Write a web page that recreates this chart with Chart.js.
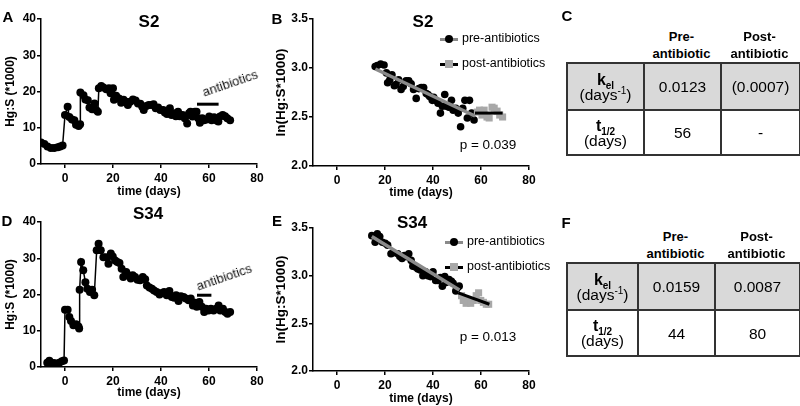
<!DOCTYPE html>
<html>
<head>
<meta charset="utf-8">
<script src="https://cdn.jsdelivr.net/npm/chart.js@4.4.1/dist/chart.umd.min.js"></script>
<style>
  body { margin: 0; background: #fff; font-family: 'Liberation Sans', Arial, Helvetica, sans-serif; }
  #fig { position: relative; width: 800px; height: 406px; overflow: hidden; }
  canvas { position: absolute; }
  .t { position: absolute; white-space: nowrap; color: #000; line-height: 1; transform: translate(-50%, -50%); }
  .letter { font-weight: bold; font-size: 15px; }
  .title { font-weight: bold; font-size: 17px; }
  .abx { font-size: 13px; color: #111; }
  .pval { font-size: 13.5px; }
  .leg { position: absolute; font-size: 12.5px; line-height: 1; white-space: nowrap; }
  .leg .sym { position: absolute; width: 18px; height: 3px; top: -1.5px; }
  .leg .mk { position: absolute; width: 8px; height: 8px; top: -4px; left: 5px; }
  .leg .txt { position: absolute; left: 22px; top: -7px; }
  .hdr { position: absolute; text-align: center; font-weight: bold; font-size: 13px; line-height: 17px; }
  table.tb { position: absolute; border-collapse: collapse; table-layout: fixed; }
  table.tb td { border: 2px solid #333; text-align: center; vertical-align: middle; padding: 0; font-size: 15.5px; line-height: 15px; }
  table.tb tr.g td { background: #d9d9d9; }
  table.tb b { font-size: 16px; }
  sub, sup { font-size: 10px; line-height: 0; }
</style>
</head>
<body>
<div id="fig">
  <canvas id="cA" width="270" height="200" style="left:0;top:0"></canvas>
  <canvas id="cB" width="270" height="200" style="left:270px;top:0"></canvas>
  <canvas id="cD" width="270" height="204" style="left:0;top:200px"></canvas>
  <canvas id="cE" width="270" height="206" style="left:270px;top:200px"></canvas>

  <div class="t letter" style="left:8px;top:16px">A</div>
  <div class="t letter" style="left:277px;top:18px">B</div>
  <div class="t letter" style="left:567px;top:15px">C</div>
  <div class="t letter" style="left:7px;top:220px">D</div>
  <div class="t letter" style="left:277px;top:220px">E</div>
  <div class="t letter" style="left:566px;top:222px">F</div>

  <div class="t title" style="left:149px;top:21px">S2</div>
  <div class="t title" style="left:423px;top:21px">S2</div>
  <div class="t title" style="left:148px;top:213px">S34</div>
  <div class="t title" style="left:412px;top:222px">S34</div>

  <div class="t abx" style="left:230px;top:83px;transform:translate(-50%,-50%) rotate(-19deg)">antibiotics</div>
  <div class="t abx" style="left:224px;top:277px;transform:translate(-50%,-50%) rotate(-19deg)">antibiotics</div>

  <div class="t pval" style="left:488px;top:145px">p = 0.039</div>
  <div class="t pval" style="left:488px;top:337px">p = 0.013</div>

  <div class="leg" style="left:440px;top:39px"><span class="sym" style="background:#8a8a8a"></span><span class="mk" style="background:#000;border-radius:50%"></span><span class="txt">pre-antibiotics</span></div>
  <div class="leg" style="left:440px;top:64px"><span class="sym" style="background:#000"></span><span class="mk" style="background:#a8a8a8"></span><span class="txt">post-antibiotics</span></div>
  <div class="leg" style="left:445px;top:242px"><span class="sym" style="background:#8a8a8a"></span><span class="mk" style="background:#000;border-radius:50%"></span><span class="txt">pre-antibiotics</span></div>
  <div class="leg" style="left:445px;top:267px"><span class="sym" style="background:#000"></span><span class="mk" style="background:#a8a8a8"></span><span class="txt">post-antibiotics</span></div>

  <div id="tabC"></div>
  <div id="tabF"></div>
</div>

<script>
// x axis ticks shared by all four plots
const xTicks = [0, 20, 40, 60, 80];

// A: S2 Hg:S ratio (*1000) over time
const s2Day = [-10, -8.6, -7.3, -5.9, -4.5, -3, -2, -1, 0, 1.1, 1.8, 2.9, 3.9, 4.6, 5.7, 6.3,
  6.4, 7.7, 8.5, 9.5, 10.2, 11.3, 12.3, 13, 13.7, 14.1, 15.1, 16, 17.2, 18.3, 19, 20, 20.4, 21.3, 22.5,
  23.4, 24.4, 25.5, 26.2, 27.2, 28.3, 29.4, 30.4, 31.4, 32.2, 32.8, 33.9, 34.9, 36, 36.9, 37.8, 38.8, 39.7, 40.9, 41.6,
  42.5, 43.7, 44.4, 45.3, 46.2, 47.1, 47.8, 49, 49.9, 50.9, 51.7, 52.3, 53.1, 54.1, 54.8, 55.5, 56.2, 57.2, 57.9, 59,
  60.1, 61.1, 62.1, 63.2, 63.9, 64.6, 65.7, 66.7, 67.6, 68.8];
const s2Ratio = [5.9, 5.5, 4.8, 4.4, 4.4, 4.6, 4.8, 5.1, 13.5, 15.8, 13, 12.3, 12.1, 10.8, 10.5, 11,
  19.7, 19, 17.8, 17.6, 15.6, 15.1, 16.7, 14.9, 14.4, 20.9, 21.5, 21.1, 20.6, 20.9, 19.5, 20.9, 17.7, 18.8, 18.1,
  16.9, 17.7, 17.2, 16.3, 17.2, 17.8, 17.5, 16.7, 16.6, 15.8, 14.9, 16, 16.3, 16.3, 16.5, 15.4, 15.6, 14.9, 14.9, 14.2,
  13.8, 15.4, 13.5, 14, 13.2, 14.4, 13.2, 13.5, 12.6, 11.2, 14, 14.4, 13.1, 14.4, 14.4, 12.6, 11.4, 12.6, 12.1, 12.3,
  13.1, 12.1, 12.9, 12, 11.7, 13.1, 13.5, 13.2, 12.6, 12.1];
const s2AbxDay = [55, 64];
const s2AbxLevel = [16.5, 16.5];

// B: S2 ln(Hg:S*1000)
const s2PreDay = [15.9, 16.8, 18.2, 19.6, 20.6, 21.1, 22, 22.9, 23.9, 24.6, 25.7, 26.7, 27.6, 28.8, 29.9, 30.9,
  31.9, 33, 34.1, 35.1, 36.1, 37.2, 37.9, 38.6, 39.7, 40.3, 41.1, 42.1, 43.1, 43.9, 44.9, 45.6, 46.6, 47.7, 48.4,
  49.5, 50.5, 51.5, 52.4, 53.3, 54.3, 55.2, 56.1, 57.1];
const s2PreLn = [3.015, 3.025, 3.04, 3.03, 2.95, 2.85, 2.88, 2.93, 2.82, 2.83, 2.88, 2.78, 2.81, 2.87, 2.87, 2.84,
  2.78, 2.69, 2.79, 2.8, 2.8, 2.74, 2.73, 2.71, 2.67, 2.7, 2.67, 2.64, 2.54, 2.61, 2.73, 2.61, 2.6, 2.67, 2.57,
  2.59, 2.54, 2.4, 2.59, 2.67, 2.49, 2.67, 2.54, 2.47];
const s2PostDay = [58.5, 59.4, 60.4, 61.3, 62.5, 63.4, 64.6, 65.5, 66.7, 67.8, 69];
const s2PostLn = [2.55, 2.57, 2.52, 2.57, 2.5, 2.49, 2.6, 2.59, 2.56, 2.52, 2.5];
const s2PreFitDay = [16, 57.5];
const s2PreFitLn = [2.99, 2.51];
const s2PostFitDay = [57.5, 69];
const s2PostFitLn = [2.54, 2.54];

// D: S34 Hg:S ratio (*1000)
const s34Day = [-7.4, -6.5, -5.6, -4.6, -3.5, -2.4, -1.3, -0.4, 0, 1.1, 1.8, 2.5, 3.5, 4.6, 5.6, 5.9,
  6.1, 6.7, 7.6, 8.5, 9.3, 10.4, 11.3, 12.2, 13.2, 14, 14.9, 16, 17.1, 18.1, 19.1, 19.9, 20.9, 21.8,
  22.7, 23.6, 24.3, 25.5, 26.4, 27.4, 28.2, 29.2, 30.2, 31.3, 32.4, 33.4, 34.1, 35.2, 36.2, 37.1, 38.2, 39.4, 40.3, 41.3,
  42.4, 43.5, 44.5, 45.5, 46.3, 47.3, 48.3, 49.4, 50.3, 51.5, 52.4, 53.3, 54.2, 54.9, 56, 57, 58, 58.8, 59.8, 60.8,
  61.9, 63, 64, 64.7, 65.8, 66.8, 67.7, 68.8];
const s34Ratio = [1.2, 1.7, 0.5, 1.1, 0.9, 1.2, 1.6, 1.8, 15.8, 15.8, 13.8, 12.7, 11.5, 11.8, 11.2, 10.6,
  21.3, 29, 26.7, 23.4, 21.6, 20.7, 21.3, 19.8, 32.2, 34, 32.2, 30.3, 30.3, 28.5, 31.3, 30.5, 29.4, 29,
  28.7, 27.1, 24.8, 26.2, 25.3, 24.4, 25.3, 24.8, 24.1, 23.9, 24.8, 24.2, 22.5, 21.9, 21.6, 21.1, 20.7, 20, 20.4, 20.7,
  19.8, 21, 19.3, 19.1, 19.8, 18.2, 19.5, 19.3, 18.9, 18.4, 18.9, 17, 17.7, 16.6, 17.9, 16.6, 15.2, 16.1, 15.6, 16.1,
  15.6, 16.1, 17, 15.6, 16.1, 15.2, 14.7, 15.2];
const s34AbxDay = [55, 61];
const s34AbxLevel = [19.8, 19.8];

// E: S34 ln(Hg:S*1000)
const s34PreDay = [14.5, 15.9, 16.8, 17.8, 18.9, 20.1, 21.1, 22.5, 23.4, 25.3, 26.2, 27.1, 28.1, 29.1, 29.9, 30.9,
  31.6, 32.7, 33.7, 34.7, 35.8, 36.9, 37.9, 38.9, 40, 41.1, 42.1, 43.1, 43.9, 44.9, 45.6, 46.7, 47.7, 48.4, 49.5, 50.1, 50.9];
const s34PreLn = [3.42, 3.35, 3.44, 3.41, 3.35, 3.34, 3.32, 3.23, 3.24, 3.23, 3.2, 3.18, 3.21, 3.2, 3.23, 3.16,
  3.1, 3.09, 3.07, 3.06, 3.0, 3.04, 3.0, 2.99, 3.04, 2.95, 2.95, 2.98, 2.89, 2.99, 2.93, 2.96, 2.94, 2.92, 2.84, 2.87, 2.89];
const s34PostDay = [51.9, 52.6, 53.8, 54.7, 55.7, 56.8, 58, 59, 59.9, 61, 62.2, 63.2];
const s34PostLn = [2.79, 2.74, 2.71, 2.74, 2.71, 2.74, 2.79, 2.82, 2.74, 2.72, 2.7, 2.7];
const s34PreFitDay = [14.5, 51];
const s34PreFitLn = [3.41, 2.85];
const s34PostFitDay = [50.5, 63.5];
const s34PostFitLn = [2.82, 2.70];

// C / F tables
const colHeads = ['Pre-<br>antibiotic', 'Post-<br>antibiotic'];
const s2Kel = ['0.0123', '(0.0007)'];
const s2Half = ['56', '-'];
const s34Kel = ['0.0159', '0.0087'];
const s34Half = ['44', '80'];

const pts = (xs, ys) => xs.map((x, i) => ({ x: x, y: ys[i] }));

Chart.defaults.font.family = "'Liberation Sans', Arial, Helvetica, sans-serif";
Chart.defaults.color = '#000';

function opts(o) {
  return {
    responsive: false,
    animation: false,
    layout: { padding: o.pad },
    plugins: { legend: { display: false }, tooltip: { enabled: false } },
    scales: {
      x: {
        type: 'linear', min: -10, max: 80,
        afterBuildTicks: s => { s.ticks = xTicks.map(v => ({ value: v })); },
        afterFit: s => { s.height = o.xh; },
        ticks: { font: { size: 12, weight: 'bold' }, padding: 3, maxRotation: 0, color: '#000' },
        grid: { display: true, drawOnChartArea: false, drawTicks: true, tickLength: 4, color: '#000', lineWidth: 1.5 },
        border: { display: true, color: '#000', width: 1.5 },
        title: { display: true, text: 'time (days)', color: '#000', font: { size: 12, weight: 'bold' }, padding: { top: 0, bottom: o.xtb } }
      },
      y: {
        min: o.min, max: o.max,
        afterFit: s => { s.width = o.yw; },
        ticks: { stepSize: o.step, font: { size: 12, weight: 'bold' }, padding: 1, color: '#000',
                 callback: v => o.fmt ? v.toFixed(1) : v },
        grid: { display: true, drawOnChartArea: false, drawTicks: true, tickLength: 4, color: '#000', lineWidth: 1.5 },
        border: { display: true, color: '#000', width: 1.5 },
        title: { display: true, text: o.ytitle, color: '#000', font: { size: o.yts, weight: 'bold' }, padding: { top: 3, bottom: 0 } }
      }
    }
  };
}

function timeCourse(id, days, vals, abxDays, abxVals, o) {
  new Chart(document.getElementById(id), {
    type: 'scatter',
    data: { datasets: [
      { data: pts(abxDays, abxVals), showLine: true, borderColor: '#000', borderWidth: 3, pointRadius: 0 },
      { data: pts(days, vals), showLine: true, borderColor: '#000', borderWidth: 1.5, pointRadius: 4,
        pointBackgroundColor: '#000', pointBorderWidth: 0 }
    ] },
    options: opts(Object.assign({ min: 0, max: 40, step: 10, ytitle: 'Hg:S (*1000)', yts: 12, yw: 41 }, o))
  });
}

function lnPlot(id, preD, preV, postD, postV, pfD, pfV, qfD, qfV, o) {
  new Chart(document.getElementById(id), {
    type: 'scatter',
    data: { datasets: [
      { data: pts(qfD, qfV), showLine: true, borderColor: '#000', borderWidth: 3, pointRadius: 0 },
      { data: pts(pfD, pfV), showLine: true, borderColor: '#8a8a8a', borderWidth: 3.5, pointRadius: 0 },
      { data: pts(postD, postV), showLine: false, pointStyle: 'rect', pointRadius: 5,
        pointBackgroundColor: '#a8a8a8', pointBorderWidth: 0 },
      { data: pts(preD, preV), showLine: false, pointRadius: 3.8,
        pointBackgroundColor: '#000', pointBorderWidth: 0 }
    ] },
    options: opts(Object.assign({ min: 2, max: 3.5, step: 0.5, fmt: true, ytitle: 'ln(Hg:S*1000)', yts: 13.5, yw: 43 }, o))
  });
}

timeCourse('cA', s2Day, s2Ratio, s2AbxDay, s2AbxLevel, { pad: { top: 19, right: 13, bottom: 0, left: 0 }, xh: 36, xtb: 1 });
timeCourse('cD', s34Day, s34Ratio, s34AbxDay, s34AbxLevel, { pad: { top: 22, right: 13, bottom: 0, left: 0 }, xh: 37, xtb: 4 });
lnPlot('cB', s2PreDay, s2PreLn, s2PostDay, s2PostLn, s2PreFitDay, s2PreFitLn, s2PostFitDay, s2PostFitLn,
  { pad: { top: 19, right: 11, bottom: 0, left: 0 }, xh: 34, xtb: 0 });
lnPlot('cE', s34PreDay, s34PreLn, s34PostDay, s34PostLn, s34PreFitDay, s34PreFitLn, s34PostFitDay, s34PostFitLn,
  { pad: { top: 28, right: 11, bottom: 0, left: 0 }, xh: 35, xtb: 0 });

// build the two parameter tables
function buildTable(el, top, cols, rowH, kel, half) {
  const left = 566;
  let html = '';
  let x = left + cols[0];
  colHeads.forEach((h, i) => {
    html += '<div class="hdr" style="left:' + x + 'px;width:' + cols[i + 1] + 'px;top:' + (top - 34) + 'px">' + h + '</div>';
    x += cols[i + 1];
  });
  const w = cols.reduce((a, b) => a + b, 0);
  html += '<table class="tb" style="left:' + left + 'px;top:' + top + 'px;width:' + w + 'px">';
  html += '<colgroup>' + cols.map(c => '<col style="width:' + c + 'px">').join('') + '</colgroup>';
  html += '<tr class="g" style="height:' + rowH[0] + 'px"><td><b>k<sub>el</sub></b><br>(days<sup>-1</sup>)</td>' +
    kel.map(v => '<td>' + v + '</td>').join('') + '</tr>';
  html += '<tr style="height:' + rowH[1] + 'px"><td><b>t<sub>1/2</sub></b><br>(days)</td>' +
    half.map(v => '<td>' + v + '</td>').join('') + '</tr>';
  html += '</table>';
  document.getElementById(el).innerHTML = html;
}
buildTable('tabC', 62, [77, 77, 79], [47, 45], s2Kel, s2Half);
buildTable('tabF', 262, [71, 77, 85], [47, 46], s34Kel, s34Half);
</script>
</body>
</html>
